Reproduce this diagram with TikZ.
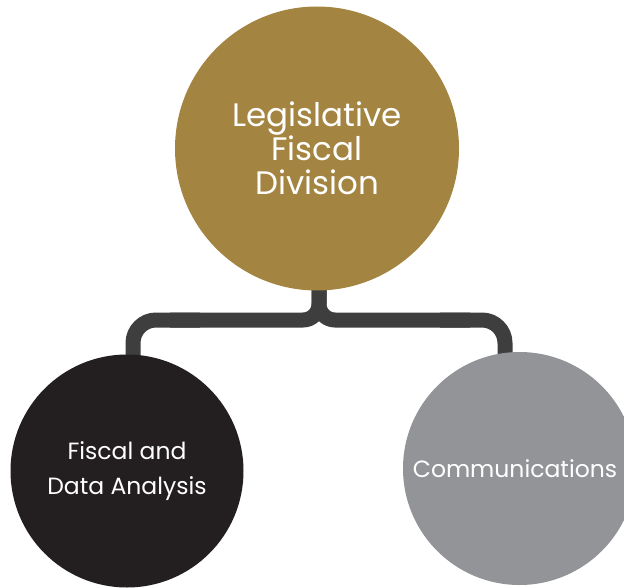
\documentclass[tikz,border=0pt]{standalone}
\usepackage{fontspec}
\setmainfont{Poppins}
\definecolor{goldc}{HTML}{A48441}
\definecolor{darkc}{HTML}{231F20}
\definecolor{grayc}{HTML}{929497}
\definecolor{connc}{HTML}{3E3E3E}
\tikzset{
  bubble/.style={circle, inner sep=0pt, text=white, align=center},
  conn/.style={draw=connc, line width=15pt},
}
\begin{document}
\begin{tikzpicture}[x=1pt,y=-1pt]
\useasboundingbox (0,0) rectangle (624,588);
\clip (0,0) rectangle (624,588);
% connector
\coordinate (stemtop) at (319,286);
\coordinate (lfoot) at (133,362);
\coordinate (rfoot) at (505,360);
\draw[conn, rounded corners=16pt] (stemtop) -- (319,320) -- (170,320);
\draw[conn, rounded corners=16pt] (stemtop) -- (319,320) -- (470,320);
\draw[conn, rounded corners=23pt] (200,320) -- (lfoot |- 0,320) -- (lfoot);
\draw[conn, rounded corners=23pt] (440,320) -- (rfoot |- 0,320) -- (rfoot);
% circles
\node[bubble, fill=goldc, minimum size=284pt, font=\fontsize{32.5}{34}\selectfont] (top) at (317,148.5) {Legislative\\Fiscal\\Division};
\node[bubble, fill=darkc, minimum size=233pt, font=\fontsize{23.5}{34.5}\selectfont] (fda) at (127,471) {Fiscal and\\Data Analysis};
\node[bubble, fill=grayc, minimum size=233pt, font=\fontsize{23.5}{34.5}\selectfont] (comm) at (519.5,468.5) {\hspace*{-9pt}Communications};
\end{tikzpicture}
\end{document}
